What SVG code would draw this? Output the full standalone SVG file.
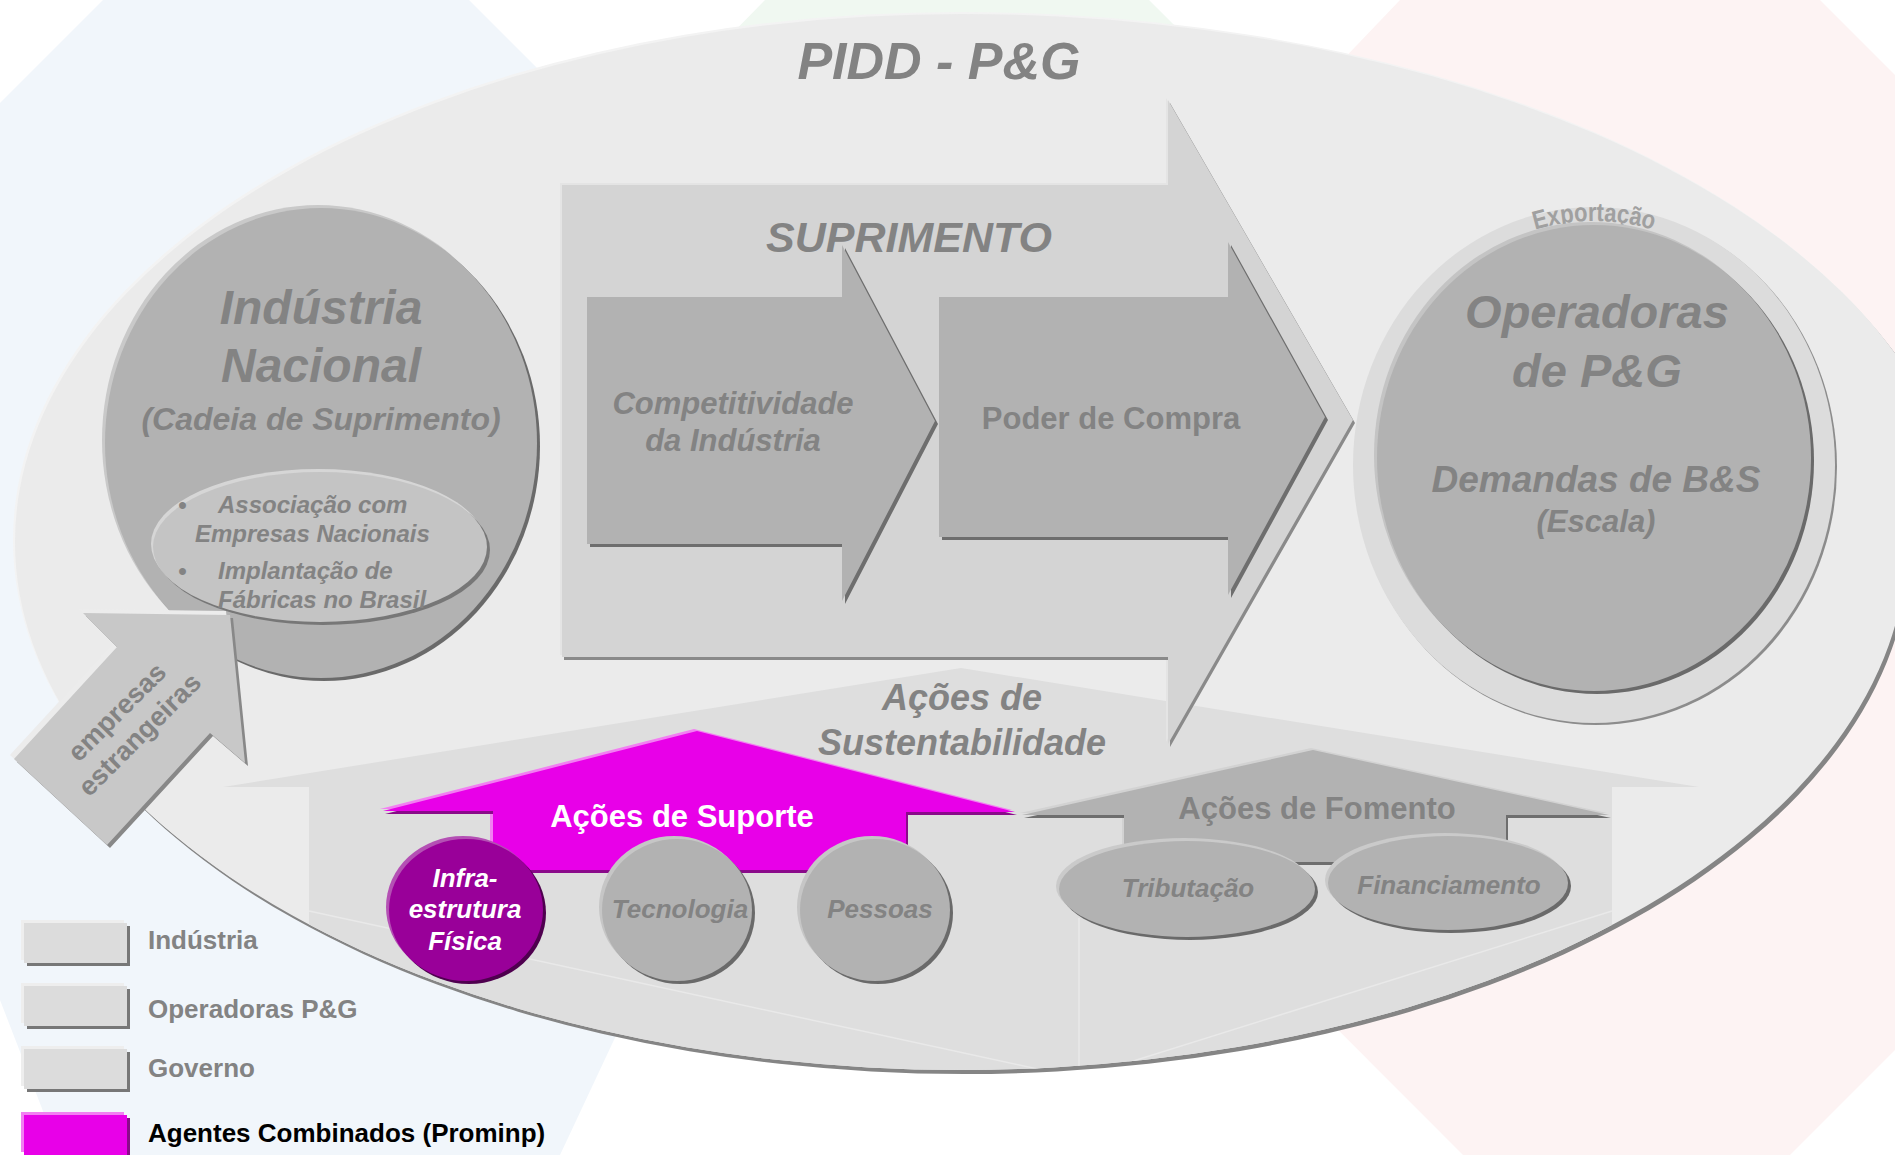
<svg xmlns="http://www.w3.org/2000/svg" width="1895" height="1155" viewBox="0 0 1895 1155">
<style>
.t{font-family:"Liberation Sans",Arial,Helvetica,sans-serif;font-weight:bold}
.i{font-style:italic}
.g{fill:#838383}
.w{fill:#ffffff}
.k{fill:#000000}
.m{text-anchor:middle}
.fl{fill:none;stroke:#e9e9e9;stroke-width:1.5}
</style>
<defs>
<path id="bigEll" d="M15,542 A946,528 0 0 1 961,14 A1000,528 0 0 1 1961,542 L1907,542 A946,528 0 0 1 961,1070 A946,528 0 0 1 15,542 Z"/>
<clipPath id="ellClip"><use href="#bigEll"/></clipPath>
<path id="house" d="M223,787 L961,668 L1699,787 L1612,787 L1612,910 L309,910 L309,787 Z"/>
<path id="supArrow" d="M562,185 L1168,185 L1168,100 L1353,420 L1168,744 L1168,657 L562,657 Z"/>
<path id="compArrow" d="M587,297 L842,297 L842,245 L935,421 L842,601 L842,544 L587,544 Z"/>
<path id="poderArrow" d="M939,297 L1228,297 L1228,242 L1325,417 L1228,595 L1228,537 L939,537 Z"/>
<ellipse id="indEll" cx="321" cy="443" rx="216" ry="235"/>
<ellipse id="indInner" cx="320" cy="547" rx="167" ry="75"/>
<path id="empArrow" d="M230,615 L245,763 L210,733 L107,845 L14,759 L117,647 L83,613 Z"/>
<ellipse id="opRing" cx="1594" cy="465" rx="241" ry="258"/>
<ellipse id="opInner" cx="1594" cy="458" rx="217" ry="233"/>
<path id="expPath" d="M1372,465 A222,244 0 0 1 1816,465"/>
<path id="supArrowUp" d="M383,811 L697,731 L1015,812 L906,812 L906,870 L493,870 L493,811 Z"/>
<ellipse id="infraEll" cx="466" cy="910" rx="77" ry="71"/>
<ellipse id="tecEll" cx="677" cy="910" rx="75" ry="71"/>
<ellipse id="pesEll" cx="875" cy="910" rx="75" ry="71"/>
<path id="fomArrow" d="M1022,815 L1313,750 L1609,815 L1506,815 L1506,862 L1124,862 L1124,815 Z"/>
<ellipse id="tribEll" cx="1187" cy="889" rx="128" ry="48"/>
<ellipse id="finEll" cx="1448" cy="883" rx="120" ry="47"/>
<rect id="lgBox" x="0" y="0" width="103" height="40"/>
</defs>

<g id="background">
<rect x="0" y="0" width="1895" height="1155" fill="#ffffff"/>
<polygon points="103,0 469,0 900,430 560,1155 60,1155 0,1000 0,103" fill="#f1f6fb"/>
<polygon points="765,0 1149,0 1400,250 960,700 520,250" fill="#f0f8f1"/>
<polygon points="1400,0 1820,0 1895,75 1895,1050 1790,1155 1463,1155 867,558" fill="#fdf3f3"/>
</g>

<g id="pidd">
<use href="#bigEll" x="3" y="4" fill="#858585"/>
<use href="#bigEll" x="-2" y="-2" fill="#f3f3f3"/>
<use href="#bigEll" fill="#ebebeb"/>
<g clip-path="url(#ellClip)">
<rect x="309" y="905" width="1303" height="180" fill="#dedede"/>
<line class="fl" x1="309" y1="911" x2="1079" y2="1078"/>
<line class="fl" x1="1612" y1="911" x2="1079" y2="1078"/>
<line class="fl" x1="1079" y1="918" x2="1079" y2="1078"/>
</g>
<text class="t i g m" x="939" y="79" font-size="52">PIDD - P&amp;G</text>
</g>

<g id="sustentabilidade">
<use href="#house" fill="#dedede"/>
<text class="t i g m" x="962" y="710" font-size="36">Ações de</text>
<text class="t i g m" x="962" y="755" font-size="36">Sustentabilidade</text>
</g>

<g id="suprimento">
<use href="#supArrow" x="-2" y="-2" fill="#e4e4e4"/>
<use href="#supArrow" x="2" y="3" fill="#8a8a8a"/>
<use href="#supArrow" fill="#d4d4d4"/>
<text class="t i g m" x="909" y="252" font-size="43">SUPRIMENTO</text>
</g>

<g id="competitividade">
<use href="#compArrow" x="3" y="3" fill="#6e6e6e"/>
<use href="#compArrow" fill="#b2b2b2"/>
<text class="t i g m" x="733" y="414" font-size="31">Competitividade</text>
<text class="t i g m" x="733" y="451" font-size="31">da Indústria</text>
</g>

<g id="poder-de-compra">
<use href="#poderArrow" x="3" y="3" fill="#6e6e6e"/>
<use href="#poderArrow" fill="#b2b2b2"/>
<text class="t g m" x="1111" y="429" font-size="31">Poder de Compra</text>
</g>

<g id="industria-nacional">
<use href="#indEll" x="-3" y="-3" fill="#c9c9c9"/>
<use href="#indEll" x="3" y="3" fill="#6a6a6a"/>
<use href="#indEll" fill="#b2b2b2"/>
<text class="t i g m" x="321" y="324" font-size="48">Indústria</text>
<text class="t i g m" x="321" y="382" font-size="48">Nacional</text>
<text class="t i g m" x="321" y="430" font-size="32">(Cadeia de Suprimento)</text>
<use href="#indInner" x="-2" y="-3" fill="#d6d6d6"/>
<use href="#indInner" x="3" y="3" fill="#777777"/>
<use href="#indInner" fill="#c4c4c4"/>
<g class="t i g" font-size="24">
<text x="178" y="513">•</text>
<text x="218" y="513">Associação com</text>
<text x="195" y="542">Empresas Nacionais</text>
<text x="178" y="579">•</text>
<text x="218" y="579">Implantação de</text>
<text x="218" y="608">Fábricas no Brasil</text>
</g>
</g>

<g id="empresas-estrangeiras">
<use href="#empArrow" x="-4" y="-4" fill="#ececec"/>
<use href="#empArrow" x="3" y="3" fill="#888888"/>
<use href="#empArrow" fill="#c8c8c8"/>
<g transform="translate(129,724) rotate(-45)">
<text class="t g m" x="0" y="-8" font-size="27">empresas</text>
<text class="t g m" x="0" y="24" font-size="27">estrangeiras</text>
</g>
</g>

<g id="operadoras">
<use href="#opRing" x="2" y="2" fill="#8c8c8c"/>
<use href="#opRing" fill="#dcdcdc"/>
<text class="t" font-size="26" fill="#a0a0a0"><textPath href="#expPath" startOffset="50%" text-anchor="middle" textLength="120" lengthAdjust="spacingAndGlyphs">Exportação</textPath></text>
<use href="#opInner" x="-3" y="-3" fill="#c4c4c4"/>
<use href="#opInner" x="3" y="3" fill="#6a6a6a"/>
<use href="#opInner" fill="#b2b2b2"/>
<text class="t i g m" x="1597" y="328" font-size="47">Operadoras</text>
<text class="t i g m" x="1597" y="387" font-size="47">de P&amp;G</text>
<text class="t i g m" x="1596" y="492" font-size="37">Demandas de B&amp;S</text>
<text class="t i g m" x="1596" y="532" font-size="31">(Escala)</text>
</g>

<g id="acoes-de-suporte">
<use href="#supArrowUp" x="-3" y="-2" fill="#f27ff2"/>
<use href="#supArrowUp" x="2" y="3" fill="#8a0a8a"/>
<use href="#supArrowUp" fill="#e800e8"/>
<text class="t w m" x="682" y="827" font-size="31">Ações de Suporte</text>
</g>

<g id="infraestrutura">
<use href="#infraEll" x="-3" y="-3" fill="#b450b4"/>
<use href="#infraEll" x="3" y="3" fill="#4f004f"/>
<use href="#infraEll" fill="#990099"/>
<text class="t i w m" x="465" y="887" font-size="26">Infra-</text>
<text class="t i w m" x="465" y="918" font-size="26">estrutura</text>
<text class="t i w m" x="465" y="950" font-size="26">Física</text>
</g>

<g id="tecnologia">
<use href="#tecEll" x="-3" y="-3" fill="#c6c6c6"/>
<use href="#tecEll" x="3" y="3" fill="#6a6a6a"/>
<use href="#tecEll" fill="#b2b2b2"/>
<text class="t i g m" x="680" y="918" font-size="26">Tecnologia</text>
</g>

<g id="pessoas">
<use href="#pesEll" x="-3" y="-3" fill="#c6c6c6"/>
<use href="#pesEll" x="3" y="3" fill="#6a6a6a"/>
<use href="#pesEll" fill="#b2b2b2"/>
<text class="t i g m" x="880" y="918" font-size="26">Pessoas</text>
</g>

<g id="acoes-de-fomento">
<use href="#fomArrow" x="-2" y="-2" fill="#d2d2d2"/>
<use href="#fomArrow" x="2" y="3" fill="#6e6e6e"/>
<use href="#fomArrow" fill="#b2b2b2"/>
<text class="t g m" x="1317" y="819" font-size="31">Ações de Fomento</text>
</g>

<g id="tributacao">
<use href="#tribEll" x="-3" y="-3" fill="#cacaca"/>
<use href="#tribEll" x="3" y="3" fill="#6a6a6a"/>
<use href="#tribEll" fill="#b2b2b2"/>
<text class="t i g m" x="1188" y="897" font-size="26">Tributação</text>
</g>

<g id="financiamento">
<use href="#finEll" x="-3" y="-3" fill="#cacaca"/>
<use href="#finEll" x="3" y="3" fill="#6a6a6a"/>
<use href="#finEll" fill="#b2b2b2"/>
<text class="t i g m" x="1449" y="894" font-size="26">Financiamento</text>
</g>

<g id="connectors"></g>

<g id="legend">
<g id="legend-industria">
<use href="#lgBox" x="21" y="920" fill="#eeeeee"/>
<use href="#lgBox" x="27" y="926" fill="#777777"/>
<use href="#lgBox" x="24" y="923" fill="#dcdcdc"/>
<text class="t g" x="148" y="949" font-size="26">Indústria</text>
</g>
<g id="legend-operadoras">
<use href="#lgBox" x="21" y="983" fill="#eeeeee"/>
<use href="#lgBox" x="27" y="989" fill="#777777"/>
<use href="#lgBox" x="24" y="986" fill="#dcdcdc"/>
<text class="t g" x="148" y="1018" font-size="26">Operadoras P&amp;G</text>
</g>
<g id="legend-governo">
<use href="#lgBox" x="21" y="1046" fill="#eeeeee"/>
<use href="#lgBox" x="27" y="1052" fill="#777777"/>
<use href="#lgBox" x="24" y="1049" fill="#dcdcdc"/>
<text class="t g" x="148" y="1077" font-size="26">Governo</text>
</g>
<g id="legend-agentes">
<use href="#lgBox" x="21" y="1112" fill="#f27ff2"/>
<use href="#lgBox" x="27" y="1118" fill="#8a0a8a"/>
<use href="#lgBox" x="24" y="1115" fill="#e800e8"/>
<text class="t k" x="148" y="1142" font-size="26">Agentes Combinados (Prominp)</text>
</g>
</g>
</svg>
